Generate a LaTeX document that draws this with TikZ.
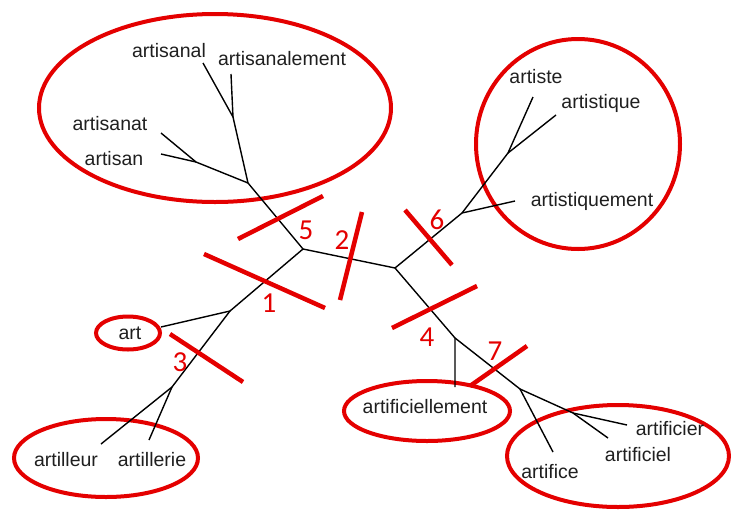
\documentclass[tikz,border=0pt]{standalone}
\usepackage{fontspec}
\setmainfont{Liberation Sans}
\newfontfamily\numfont{Carlito}
\usepackage{xcolor}
\usetikzlibrary{shapes.geometric}
\definecolor{cutred}{RGB}{228,0,0}
\tikzset{
  % word labels
  word/.style={font=\fontsize{19.5}{22}\selectfont, text=black!88, inner sep=0pt, anchor=base},
  % tree branches
  branch/.style={line width=1.4pt, black},
  % red cuts and their numbers
  cut/.style={line width=4.5pt, cutred},
  cutlab/.style={font=\numfont\fontsize{29}{30}\selectfont, text=cutred, inner sep=0pt},
  % red groups
  group/.style={draw=cutred, line width=4pt, ellipse, inner sep=0pt},
}

\begin{document}
\begin{tikzpicture}[x=1pt, y=-1pt]
    \useasboundingbox (0,0) rectangle (731,512);

    % Groups
    \node[group, minimum width=352pt, minimum height=188pt] (gsan) at (215,108) {};
    \node[group, minimum width=64pt, minimum height=33pt] (gart) at (128,333) {};
    \node[group, minimum width=184pt, minimum height=78pt] (gill) at (106,458) {};
    \node[group, minimum width=204pt, minimum height=210pt] (gtis) at (578,144) {};
    \node[group, minimum width=166pt, minimum height=60pt] (gell) at (427,411) {};
    \node[group, minimum width=222pt, minimum height=102pt] (gfic) at (618,456) {};

    % Junctions
    \coordinate (n1) at (303,249);
    \coordinate (n2) at (395,268);
    \coordinate (a1) at (248,183);
    \coordinate (a2) at (233,117);
    \coordinate (a3) at (196,162);
    \coordinate (b1) at (230,311);
    \coordinate (b2) at (172,387);
    \coordinate (c1) at (462,213);
    \coordinate (c2) at (508,153);
    \coordinate (d1) at (455,338);
    \coordinate (d2) at (520,389);
    \coordinate (d3) at (573,413);

    % Leaves
    \coordinate (lsanal) at (203,63);
    \coordinate (lsanalem) at (231,74);
    \coordinate (lsanat) at (161,133);
    \coordinate (lsan) at (161,154);
    \coordinate (lart) at (161,327);
    \coordinate (lleur) at (101,444);
    \coordinate (lrie) at (149,440);
    \coordinate (ltiste) at (533,97);
    \coordinate (ltique) at (556,115);
    \coordinate (ltiqm) at (515,201);
    \coordinate (lellm) at (455,387);
    \coordinate (lfice) at (553,452);
    \coordinate (lfier) at (627,425);
    \coordinate (lfiel) at (608,438);

    % Branches
    \draw[branch] (n1) -- (n2);
    \draw[branch] (n1) -- (a1) -- (a2) -- (lsanal);
    \draw[branch] (a2) -- (lsanalem);
    \draw[branch] (a1) -- (a3) -- (lsanat);
    \draw[branch] (a3) -- (lsan);
    \draw[branch] (n1) -- (b1) -- (lart);
    \draw[branch] (b1) -- (b2) -- (lleur);
    \draw[branch] (b2) -- (lrie);
    \draw[branch] (n2) -- (c1) -- (ltiqm);
    \draw[branch] (c1) -- (c2) -- (ltiste);
    \draw[branch] (c2) -- (ltique);
    \draw[branch] (n2) -- (d1) -- (lellm);
    \draw[branch] (d1) -- (d2) -- (lfice);
    \draw[branch] (d2) -- (d3) -- (lfier);
    \draw[branch] (d3) -- (lfiel);

    % Words
    \node[word] (wsanal) at (169,57) {artisanal};
    \node[word] (wsanalem) at (282,65) {artisanalement};
    \node[word] (wsanat) at (110,130) {artisanat};
    \node[word] (wsan) at (114,165) {artisan};
    \node[word] (wart) at (130,339) {art};
    \node[word] (wleur) at (66,466) {artilleur};
    \node[word] (wrie) at (152,466) {artillerie};
    \node[word] (wtiste) at (536,83) {artiste};
    \node[word] (wtique) at (601,108) {artistique};
    \node[word] (wtiqm) at (592,206) {artistiquement};
    \node[word] (wellm) at (425,413) {artificiellement};
    \node[word] (wfice) at (550,478) {artifice};
    \node[word] (wfiel) at (638,461) {artificiel};
    \node[word] (wfier) at (670,435) {artificier};

    % Cuts
    \draw[cut] (204,254) -- (325,308);
    \node[cutlab] (k1) at (269,303) {1};
    \draw[cut] (362,212) -- (340,300);
    \node[cutlab] (k2) at (342,240) {2};
    \draw[cut] (170,334) -- (243,382);
    \node[cutlab] (k3) at (180,362) {3};
    \draw[cut] (392,328) -- (477,286);
    \node[cutlab] (k4) at (427,337) {4};
    \draw[cut] (238,239) -- (323,196);
    \node[cutlab] (k5) at (306,230) {5};
    \draw[cut] (405,210) -- (452,265);
    \node[cutlab] (k6) at (437,220) {6};
    \draw[cut] (470,386) -- (527,346);
    \node[cutlab] (k7) at (495,351) {7};
\end{tikzpicture}
\end{document}
